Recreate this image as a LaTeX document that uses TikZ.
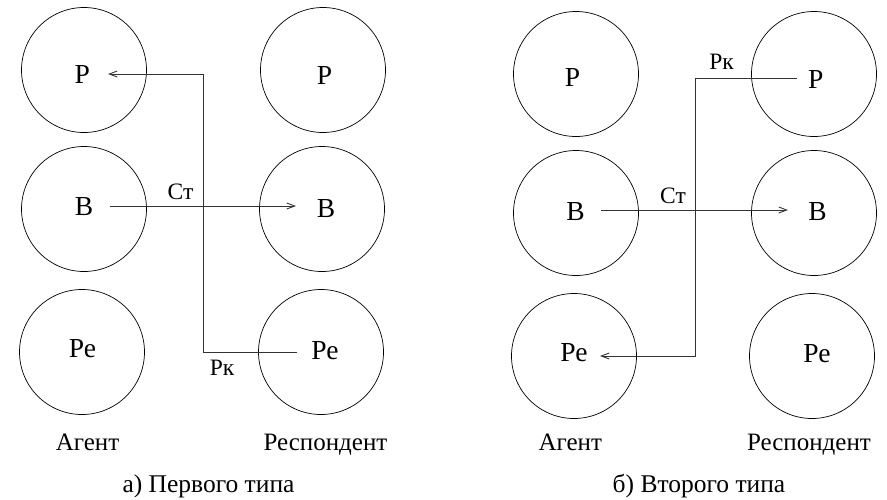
\documentclass[tikz,border=0pt]{standalone}
\usepackage{fontspec}
\setmainfont{Liberation Serif}
\usetikzlibrary{arrows.meta}
\begin{document}
\begin{tikzpicture}[x=1pt,y=-1pt,
  circ/.style={draw,circle,line width=0.7pt,minimum size=125pt,inner sep=0pt},
  lbl/.style={font=\fontsize{27.5}{27.5}\selectfont,inner sep=0pt,anchor=base},
  small/.style={font=\fontsize{23.5}{23.5}\selectfont,inner sep=0pt,anchor=base},
  foot/.style={font=\fontsize{25}{25}\selectfont,inner sep=0pt,anchor=base},
  captext/.style={font=\fontsize{25.5}{25.5}\selectfont,inner sep=0pt,anchor=base},
  conn/.style={line width=0.9pt,draw=black!80},
  arr/.style={conn,-{Straight Barb[length=8pt,width=6pt]}}]
\useasboundingbox (0,0) rectangle (887,499);
% ---- panel a
\node[circ] (aP) at (84,70) {};
\node[circ] (aB) at (84,209) {};
\node[circ] (aRe) at (82,352) {};
\node[circ] (bP) at (323,70) {};
\node[circ] (bB) at (322,209) {};
\node[circ] (bRe) at (321,352) {};
\node[lbl] (aPt) at (82.3,83.3) {Р};
\node[lbl] (aBt) at (84,215) {В};
\node[lbl] (aRet) at (82.5,357.3) {Ре};
\node[lbl] (bPt) at (324.5,84) {Р};
\node[lbl] (bBt) at (326,217) {В};
\node[lbl] (bRet) at (325,359) {Ре};
\coordinate (a1) at (110,206);
\coordinate (a2) at (296,206);
\draw[arr] (a1) -- (a2);
\node[small] (aSt) at (180.5,199) {Ст};
\coordinate (k1) at (297,352);
\coordinate (k2) at (203,352);
\coordinate (k3) at (203,74);
\coordinate (k4) at (108,74);
\draw[arr] (k1) -- (k2) -- (k3) -- (k4);
\node[small] (aRk) at (222,375) {Рк};
\node[foot] (aAg) at (87.5,450) {Агент};
\node[foot] (aRs) at (325.5,450) {Респондент};
\node[captext] (aCap) at (208.5,492) {а) Первого типа};
% ---- panel b
\node[circ] (cP) at (576,74) {};
\node[circ] (cB) at (576,213) {};
\node[circ] (cRe) at (574,356) {};
\node[circ] (dP) at (814,74) {};
\node[circ] (dB) at (814,213) {};
\node[circ] (dRe) at (812,356) {};
\node[lbl] (cPt) at (572.5,86.7) {Р};
\node[lbl] (cBt) at (575.5,220) {В};
\node[lbl] (cRet) at (574,361) {Ре};
\node[lbl] (dPt) at (815.8,88) {Р};
\node[lbl] (dBt) at (817.5,220) {В};
\node[lbl] (dRet) at (817,362.7) {Ре};
\coordinate (c1) at (601,210);
\coordinate (c2) at (788,210);
\draw[arr] (c1) -- (c2);
\node[small] (cSt) at (673,203) {Ст};
\coordinate (m1) at (797,78);
\coordinate (m2) at (695,78);
\coordinate (m3) at (695,356);
\coordinate (m4) at (600,356);
\draw[arr] (m1) -- (m2) -- (m3) -- (m4);
\node[small] (cRk) at (721.5,69) {Рк};
\node[foot] (cAg) at (570.3,450) {Агент};
\node[foot] (cRs) at (809,450) {Респондент};
\node[captext] (cCap) at (699,492) {б) Второго типа};
\end{tikzpicture}
\end{document}
